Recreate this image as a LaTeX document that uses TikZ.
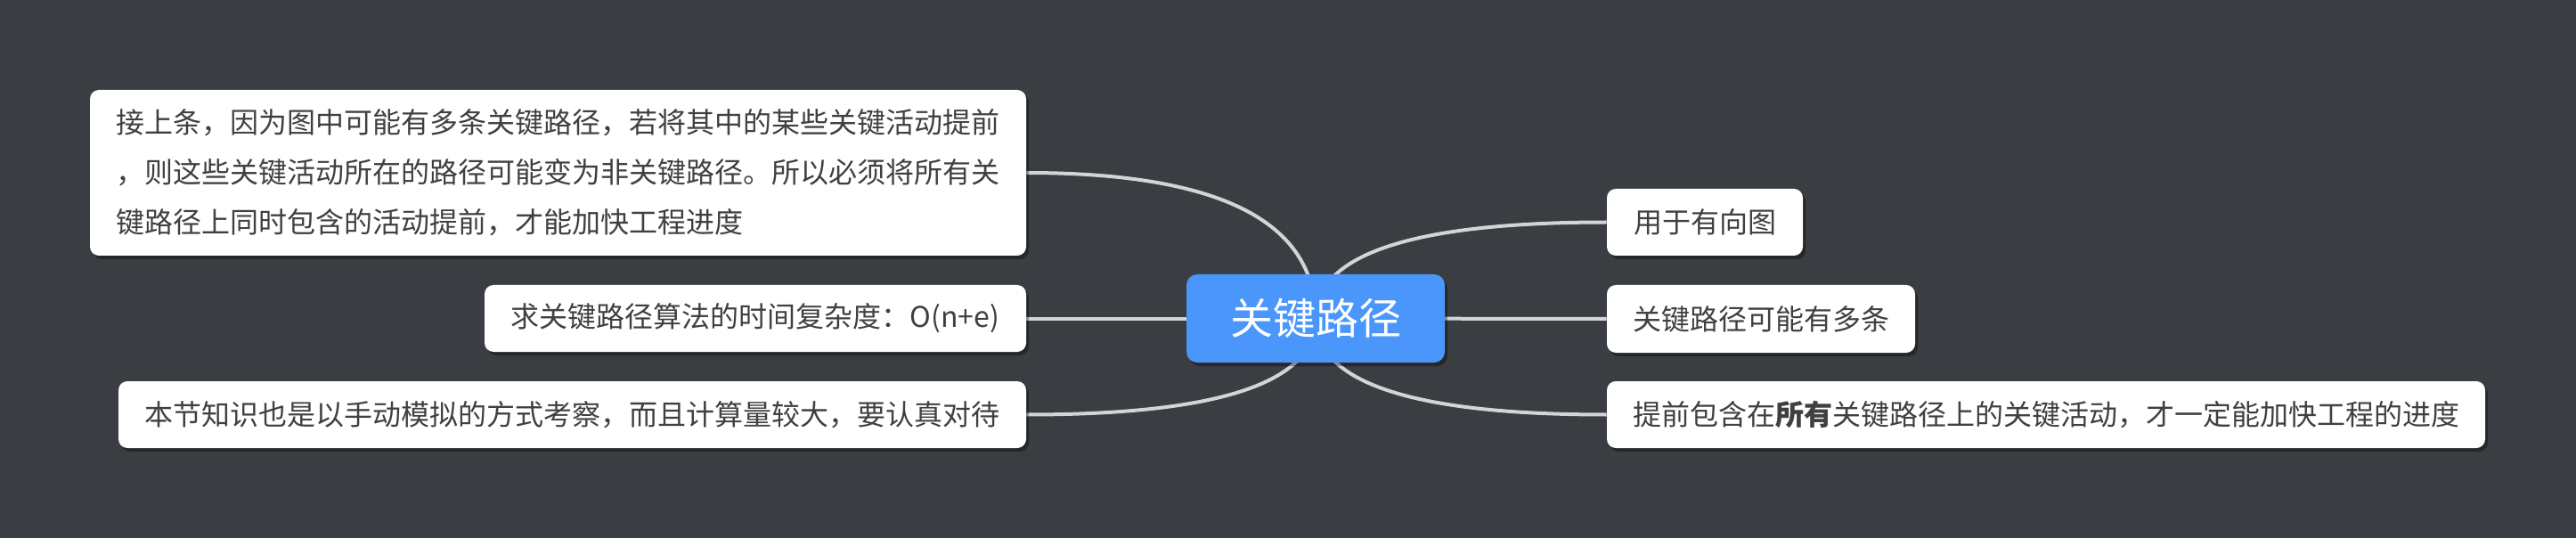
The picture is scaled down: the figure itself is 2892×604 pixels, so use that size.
\documentclass[tikz,border=0pt]{standalone}
\usepackage{fontspec}
\setmainfont{Noto Sans CJK SC}
\usetikzlibrary{shadows,backgrounds,calc}
\definecolor{bgc}{HTML}{3A3D42}
\definecolor{linec}{HTML}{D4D4D4}
\definecolor{bluec}{HTML}{4A96FA}
\definecolor{txtc}{HTML}{404040}
\begin{document}
\begin{tikzpicture}[x=0.5pt,y=-0.5pt,
  box/.style={fill=white, rounded corners=5pt, inner sep=0pt, text=txtc,
    font=\fontsize{16pt}{28pt}\selectfont, align=left,
    drop shadow={shadow xshift=1.5pt, shadow yshift=-2pt, opacity=0.35, fill=black}},
  central/.style={fill=bluec, rounded corners=6pt, inner sep=0pt, text=white,
    font=\fontsize{24pt}{28pt}\selectfont,
    drop shadow={shadow xshift=1.5pt, shadow yshift=-2pt, opacity=0.35, fill=black}},
  conn/.style={draw=linec, line width=2pt}]
\useasboundingbox (0,0) rectangle (2892,604);
% central
\node[central, minimum width=145pt, minimum height=49.5pt] (c) at (1477,357.5) {关键路径};
% left
\node[box, minimum width=525.5pt, minimum height=93pt] (l1) at (626.5,194)
  {接上条，因为图中可能有多条关键路径，若将其中的某些关键活动提前\\，则这些关键活动所在的路径可能变为非关键路径。所以必须将所有关\\键路径上同时包含的活动提前，才能加快工程进度};
\node[box, minimum width=304pt, minimum height=37.5pt] (l2) at (848,357.5) {求关键路径算法的时间复杂度：O(n+e)};
\node[box, minimum width=509.5pt, minimum height=37.5pt] (l3) at (642.5,465.5) {本节知识也是以手动模拟的方式考察，而且计算量较大，要认真对待};
% right
\node[box, minimum width=110pt, minimum height=37.5pt] (r1) at (1914,249.5) {用于有向图};
\node[box, minimum width=173pt, minimum height=38pt] (r2) at (1977,358) {关键路径可能有多条};
\node[box, minimum width=493pt, minimum height=37.5pt] (r3) at (2297,465.5) {提前包含在\textbf{所有}关键路径上的关键活动，才一定能加快工程的进度};
\begin{pgfonlayer}{background}
\fill[bgc] (0,0) rectangle (2892,604);
\foreach \t in {l1,l3} {
  \draw[conn] (c.center) .. controls ($(c.center)!0.667!(c.center |- \t.east)$)
    and ($(\t.east)!0.667!(c.center |- \t.east)$) .. (\t.east);
}
\foreach \t in {r1,r3} {
  \draw[conn] (c.center) .. controls ($(c.center)!0.667!(c.center |- \t.west)$)
    and ($(\t.west)!0.667!(c.center |- \t.west)$) .. (\t.west);
}
\draw[conn] (c.center) -- (l2.east);
\draw[conn] (c.center) -- (r2.west);
\end{pgfonlayer}
\end{tikzpicture}
\end{document}
